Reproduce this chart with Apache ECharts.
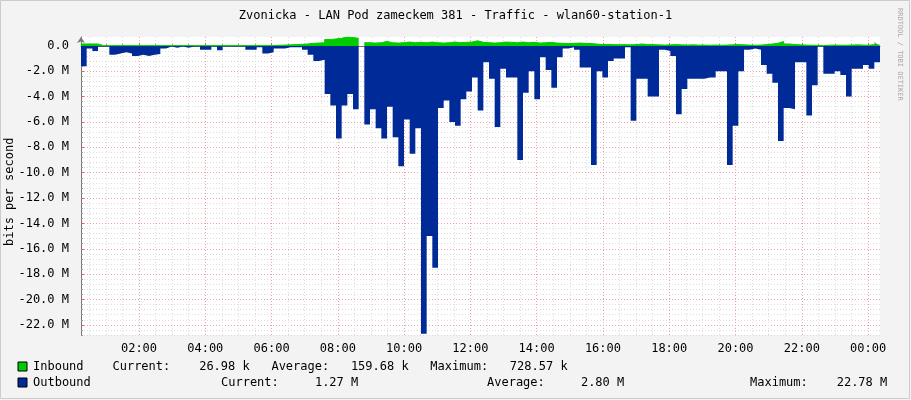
<!DOCTYPE html>
<html>
<head>
<meta charset="utf-8">
<script src="https://cdn.jsdelivr.net/npm/echarts@6/dist/echarts.min.js"></script>
<style>
html,body{margin:0;padding:0;background:#f3f3f3}
#main{width:911px;height:400px}
</style>
</head>
<body>
<div id="main"></div>
<script>
// samples roughly every 10 minutes (hours since midnight)
var startHour = 0.25
var endHour = 24.36

// bits per second, in M
var inbound = [
  0.15,0.15,0.15,0.02,0.02,0.02,0.02,0.02,0.02,0.02,
  0.02,0.02,0.02,0.02,0.02,0.02,0.02,0.02,0.02,0.02,
  0.02,0.02,0.02,0.02,0.02,0.02,0.02,0.02,0.02,0.02,
  0.02,0.02,0.02,0.02,0.05,0.06,0.08,0.1,0.12,0.15,
  0.2,0.22,0.25,0.5,0.55,0.6,0.7,0.65,0.6,null,
  0.25,0.22,0.25,0.35,0.25,0.22,0.25,0.3,0.25,0.28,
  0.25,0.3,0.25,0.22,0.25,0.3,0.25,0.28,0.3,0.4,
  0.28,0.25,0.22,0.25,0.3,0.28,0.25,0.3,0.25,0.28,
  0.22,0.25,0.28,0.22,0.2,0.18,0.2,0.22,0.2,0.18,
  0.15,0.1,0.12,0.1,0.08,0.1,0.08,0.1,0.15,0.1,
  0.1,0.08,0.06,0.08,0.1,0.08,0.06,0.08,0.06,0.06,
  0.05,0.06,0.05,0.06,0.08,0.1,0.08,0.06,0.05,0.06,
  0.1,0.15,0.2,0.35,0.15,0.1,0.08,0.06,0.05,0.05,
  0.02,0.05,0.06,0.05,0.05,0.06,0.08,0.06,0.05,0.1,
  0.05,0.03
]
var outbound = [
  1.6,0.2,0.4,0.05,0.05,0.7,0.6,0.5,0.6,0.8,
  0.7,0.8,0.7,0.65,0.2,0.05,0.15,0.05,0.15,0.05,
  0.05,0.3,0.3,0.05,0.35,0.05,0.05,0.05,0.05,0.3,
  0.3,0.1,0.6,0.5,0.2,0.2,0.1,0.1,0.1,0.3,
  0.7,1.2,1.1,3.8,4.7,7.3,4.7,3.8,5.0,null,
  6.2,5.0,6.5,7.3,4.8,7.2,9.5,5.8,8.5,6.5,
  22.7,15,17.5,4.9,4.3,6.0,6.3,4.2,3.6,2.5,
  5.1,1.3,2.6,6.4,1.8,2.5,2.5,9.0,3.7,2.0,
  4.2,0.9,1.9,3.3,0.9,0.2,0.1,0.3,1.7,1.7,
  9.4,2.0,2.5,1.2,1.0,1.0,0.1,5.9,2.6,2.6,
  4.0,4.0,0.3,0.4,0.8,5.4,3.4,2.6,2.6,2.6,
  2.5,2.5,2.0,2.0,9.4,6.3,2.0,0.3,0.2,0.3,
  1.5,2.2,2.9,7.5,4.9,5.0,1.3,1.3,5.5,3.1,
  0.05,2.2,2.2,2.0,2.3,4.0,1.8,1.8,1.5,1.8,
  1.3,1.3
]

var hourLabels = [2,4,6,8,10,12,14,16,18,20,22,24]
var yLabels = [0,-2,-4,-6,-8,-10,-12,-14,-16,-18,-20,-22]

var minorX = []
for (var h = 0.5; h <= 24; h += 0.5) minorX.push(h)
var minorY = []
for (var v = 0; v >= -22.8; v -= 0.4) minorY.push(+v.toFixed(1))

var stepHour = (endHour - startHour) / (outbound.length - 1)
var inData = inbound.map(function (d, i) { return [startHour + i * stepHour, d] })
var outData = outbound.map(function (d, i) { return [startHour + i * stepHour, d == null ? null : -d] })

var mono = 'DejaVu Sans Mono'
var xMin = startHour, xMax = endHour

var myChart = echarts.init(document.getElementById('main'))

var option = {
  backgroundColor: '#f3f3f3',
  animation: false,
  title: {
    text: 'Zvonicka - LAN Pod zameckem 381 - Traffic - wlan60-station-1',
    left: 'center', top: 5,
    textStyle: { fontFamily: mono, fontSize: 12, fontWeight: 'normal', color: '#000' }
  },
  grid: { left: 81, right: 31, top: 37, bottom: 65, outerBoundsMode: 'none', containLabel: false, show: true, backgroundColor: '#fff', borderWidth: 0 },
  xAxis: [
    {
      type: 'value', min: xMin, max: xMax,
      axisLine: { show: false }, axisLabel: { show: false },
      axisTick: { show: true, customValues: minorX, length: -2, lineStyle: { color: '#999' } },
      splitLine: { show: true, lineStyle: { color: '#dcdcdc', type: [1, 2] } }
    },
    {
      type: 'value', min: xMin, max: xMax, position: 'bottom',
      axisLine: { show: true, lineStyle: { color: '#777' }, symbol: ['none', 'arrow'], symbolSize: [6, 6] },
      axisTick: { show: true, customValues: hourLabels, length: -3, lineStyle: { color: '#e06060' } },
      axisLabel: {
        customValues: hourLabels, fontFamily: mono, fontSize: 12, color: '#000', margin: 8,
        formatter: function (h) { return (h % 24 < 10 ? '0' : '') + (h % 24) + ':00' }
      },
      splitLine: { show: true, lineStyle: { color: '#f0a0a0', type: [1, 2] } }
    }
  ],
  yAxis: [
    {
      type: 'value', min: -22.8, max: 0.7,
      axisLine: { show: false }, axisLabel: { show: false },
      axisTick: { show: true, customValues: minorY, length: -2, lineStyle: { color: '#999' } },
      splitLine: { show: true, lineStyle: { color: '#dcdcdc', type: [1, 2] } }
    },
    {
      type: 'value', min: -22.8, max: 0.7, position: 'left',
      axisLine: { show: true, lineStyle: { color: '#777' }, symbol: ['none', 'arrow'], symbolSize: [6, 6] },
      axisTick: { show: true, customValues: yLabels, length: -3, lineStyle: { color: '#e06060' } },
      axisLabel: {
        customValues: yLabels, fontFamily: mono, fontSize: 12, color: '#000', margin: 12,
        formatter: function (v) { return v === 0 ? '0.0' : v.toFixed(1) + ' M' }
      },
      splitLine: { show: true, lineStyle: { color: '#f0a0a0', type: [1, 2] } }
    }
  ],
  series: [
    {
      name: 'Outbound', type: 'line', xAxisIndex: 1, yAxisIndex: 1, data: outData,
      step: 'end', symbol: 'none', connectNulls: false,
      lineStyle: { width: 0 }, areaStyle: { color: '#002a97', opacity: 1 }, z: 3
    },
    {
      name: 'Inbound', type: 'line', xAxisIndex: 1, yAxisIndex: 1, data: inData,
      step: 'end', symbol: 'none', connectNulls: false,
      lineStyle: { width: 1, color: '#00cc00' }, areaStyle: { color: '#00cc00', opacity: 1 }, z: 4
    }
  ],
  graphic: [
    { type: 'rect', shape: { x: 0.5, y: 0.5, width: 909, height: 398 }, style: { fill: null, stroke: '#ccc' } },
    { type: 'text', x: 903, y: 8, rotation: -Math.PI / 2, style: { text: 'RRDTOOL / TOBI OETIKER', fontFamily: mono, fontSize: 7, fill: '#aaa' } },
    { type: 'text', x: 4, y: 246, rotation: Math.PI / 2, style: { text: 'bits per second', fontFamily: mono, fontSize: 12, fill: '#000' } },
    { type: 'rect', shape: { x: 18, y: 362, width: 9, height: 9 }, style: { fill: '#00cc00', stroke: '#000', lineWidth: 1 } },
    { type: 'rect', shape: { x: 18, y: 378, width: 9, height: 9 }, style: { fill: '#002a97', stroke: '#000', lineWidth: 1 } },
    { type: 'text', x: 33, y: 361, style: { text: 'Inbound    Current:    26.98 k   Average:   159.68 k   Maximum:   728.57 k', fontFamily: mono, fontSize: 12, fill: '#000' } },
    { type: 'text', x: 33, y: 377, style: { text: 'Outbound', fontFamily: mono, fontSize: 12, fill: '#000' } },
    { type: 'text', x: 221, y: 377, style: { text: 'Current:     1.27 M', fontFamily: mono, fontSize: 12, fill: '#000' } },
    { type: 'text', x: 487, y: 377, style: { text: 'Average:     2.80 M', fontFamily: mono, fontSize: 12, fill: '#000' } },
    { type: 'text', x: 750, y: 377, style: { text: 'Maximum:    22.78 M', fontFamily: mono, fontSize: 12, fill: '#000' } }
  ]
}

myChart.setOption(option)
</script>
</body>
</html>
